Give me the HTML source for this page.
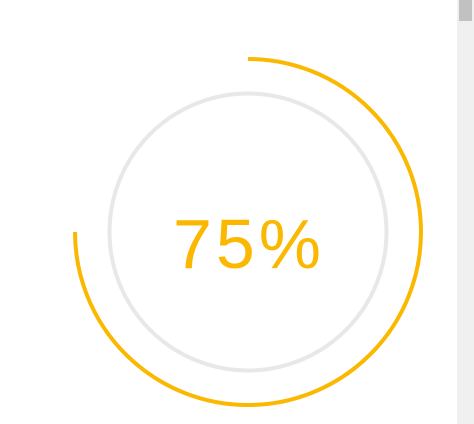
<!DOCTYPE html>
<html><head><meta charset="utf-8"><style>
html,body{margin:0;padding:0;background:#fff;width:474px;height:424px;overflow:hidden}
#sb{position:absolute;left:457px;top:0;width:17px;height:424px;background:#f0f0f0}
#thumb{position:absolute;left:2px;top:0;width:13px;height:21px;background:#c1c1c1}
</style></head><body>
<svg id="chart" width="457" height="424" style="position:absolute;left:0;top:0">
<circle cx="248" cy="232" r="138.5" fill="none" stroke="#e8e8e8" stroke-width="4"/>
<path id="arc" fill="none" stroke="#fbb800" stroke-width="4"/>
<text id="lbl" x="249" y="268" text-anchor="middle" font-family="Liberation Sans, sans-serif" font-size="70" letter-spacing="4" fill="#fbb800"></text>
</svg>
<div id="sb"><div id="thumb"></div></div>
<script>
const values=[75];
const maxValue=[100];
const cx=248,cy=232,r=173;
const v=values[0],frac=v/maxValue[0];
const a0=-Math.PI/2,a1=a0+frac*2*Math.PI;
const x0=cx+r*Math.cos(a0),y0=cy+r*Math.sin(a0),x1=cx+r*Math.cos(a1),y1=cy+r*Math.sin(a1);
document.getElementById('arc').setAttribute('d',`M${x0},${y0} A${r},${r} 0 ${frac>0.5?1:0} 1 ${x1},${y1}`);
document.getElementById('lbl').textContent=v+'%';
</script>
</body></html>
